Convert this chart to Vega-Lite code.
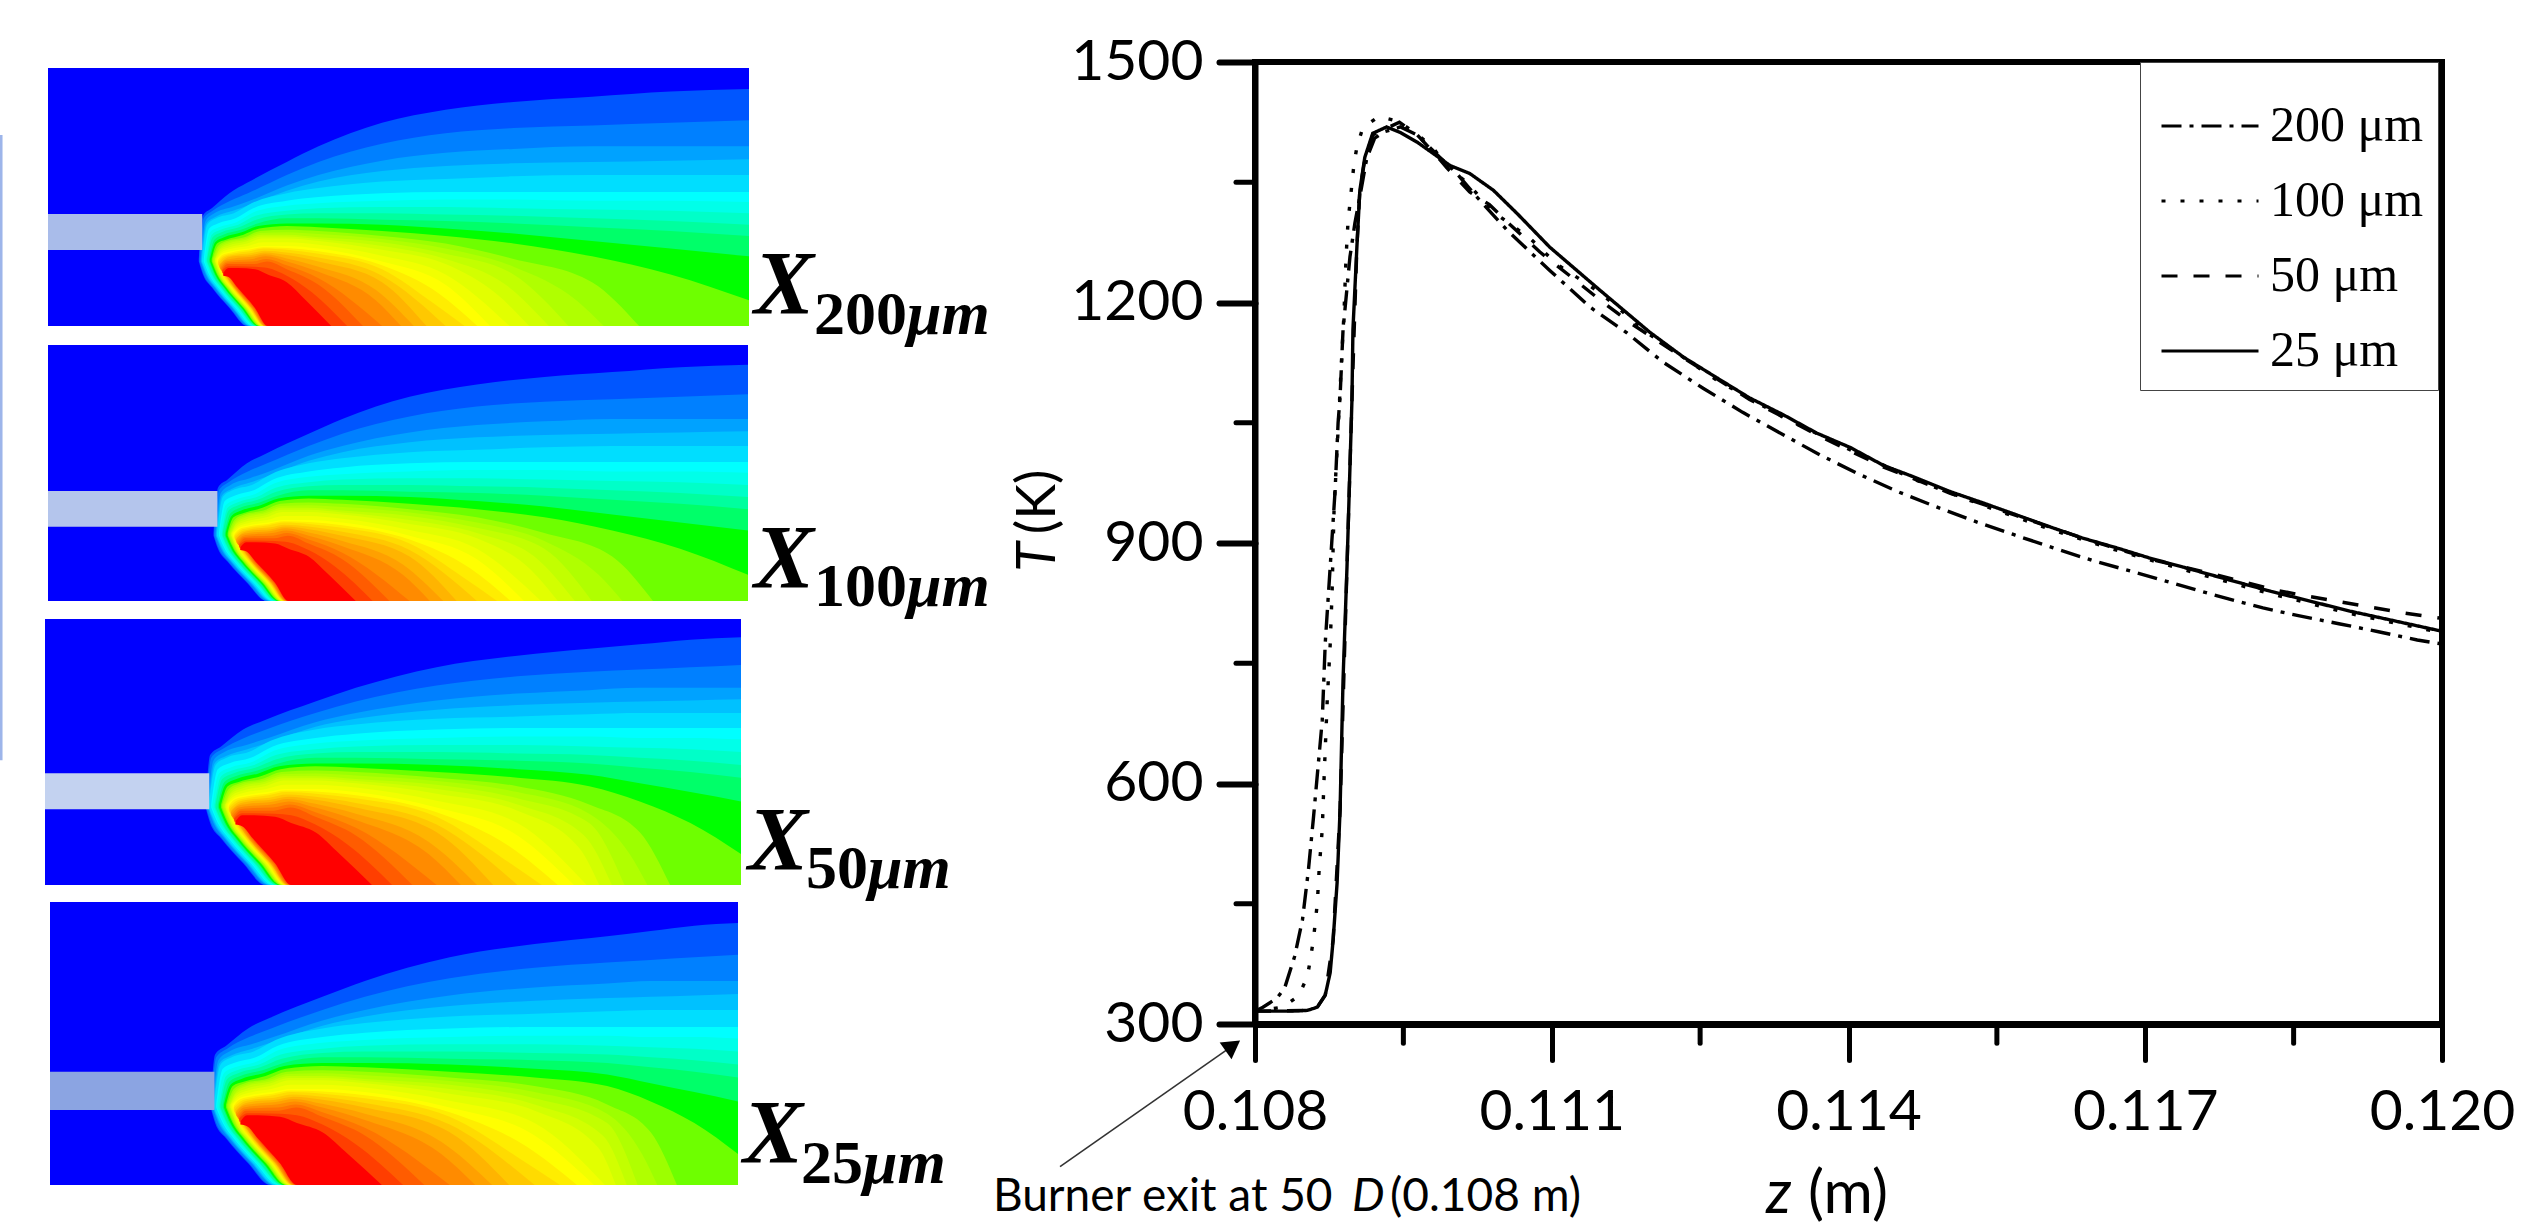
{
"$schema":"https://vega.github.io/schema/vega-lite/v6.json",
"width":1187,"height":962,"autosize":"none","background":"white",
"padding":{"left":1255,"top":62,"right":85,"bottom":201},
"view":{"stroke":"#000","strokeWidth":6},
"datasets":{
"field":[
{"v":0,"x":0,"t":1,"b":0},{"v":0,"x":1,"t":1,"b":0},
{"v":0.04,"x":0.235,"t":0.26,"b":0.25},{"v":0.04,"x":0.241,"t":0.43,"b":0.2},{"v":0.04,"x":0.251,"t":0.46,"b":0.15},{"v":0.04,"x":0.271,"t":0.52,"b":0.07},{"v":0.04,"x":0.291,"t":0.56,"b":0},{"v":0.04,"x":0.35,"t":0.64,"b":0},{"v":0.04,"x":0.4,"t":0.7,"b":0},{"v":0.04,"x":0.5,"t":0.79,"b":0},{"v":0.04,"x":0.6,"t":0.84,"b":0},{"v":0.04,"x":0.7,"t":0.87,"b":0},{"v":0.04,"x":0.8,"t":0.89,"b":0},{"v":0.04,"x":0.9,"t":0.91,"b":0},{"v":0.04,"x":1,"t":0.92,"b":0},
{"v":0.08,"x":0.236,"t":0.26,"b":0.25},{"v":0.08,"x":0.242,"t":0.42,"b":0.2},{"v":0.08,"x":0.252,"t":0.45,"b":0.15},{"v":0.08,"x":0.272,"t":0.49,"b":0.07},{"v":0.08,"x":0.292,"t":0.52,"b":0},{"v":0.08,"x":0.35,"t":0.59,"b":0},{"v":0.08,"x":0.4,"t":0.64,"b":0},{"v":0.08,"x":0.5,"t":0.71,"b":0},{"v":0.08,"x":0.6,"t":0.75,"b":0},{"v":0.08,"x":0.7,"t":0.77,"b":0},{"v":0.08,"x":0.8,"t":0.78,"b":0},{"v":0.08,"x":0.9,"t":0.79,"b":0},{"v":0.08,"x":1,"t":0.8,"b":0},
{"v":0.12,"x":0.238,"t":0.26,"b":0.25},{"v":0.12,"x":0.244,"t":0.41,"b":0.2},{"v":0.12,"x":0.254,"t":0.44,"b":0.15},{"v":0.12,"x":0.274,"t":0.465,"b":0.07},{"v":0.12,"x":0.294,"t":0.49,"b":0},{"v":0.12,"x":0.35,"t":0.55,"b":0},{"v":0.12,"x":0.4,"t":0.59,"b":0},{"v":0.12,"x":0.5,"t":0.645,"b":0},{"v":0.12,"x":0.6,"t":0.675,"b":0},{"v":0.12,"x":0.7,"t":0.69,"b":0},{"v":0.12,"x":0.8,"t":0.7,"b":0},{"v":0.12,"x":0.9,"t":0.7,"b":0},{"v":0.12,"x":1,"t":0.7,"b":0},
{"v":0.16,"x":0.239,"t":0.26,"b":0.25},{"v":0.16,"x":0.245,"t":0.4,"b":0.2},{"v":0.16,"x":0.255,"t":0.425,"b":0.15},{"v":0.16,"x":0.275,"t":0.45,"b":0.07},{"v":0.16,"x":0.295,"t":0.475,"b":0},{"v":0.16,"x":0.35,"t":0.53,"b":0},{"v":0.16,"x":0.4,"t":0.565,"b":0},{"v":0.16,"x":0.5,"t":0.605,"b":0},{"v":0.16,"x":0.6,"t":0.625,"b":0},{"v":0.16,"x":0.7,"t":0.635,"b":0},{"v":0.16,"x":0.8,"t":0.64,"b":0},{"v":0.16,"x":0.9,"t":0.645,"b":0},{"v":0.16,"x":1,"t":0.65,"b":0},
{"v":0.2,"x":0.24,"t":0.26,"b":0.25},{"v":0.2,"x":0.246,"t":0.395,"b":0.2},{"v":0.2,"x":0.256,"t":0.42,"b":0.15},{"v":0.2,"x":0.276,"t":0.44,"b":0.07},{"v":0.2,"x":0.296,"t":0.48,"b":0},{"v":0.2,"x":0.35,"t":0.52,"b":0},{"v":0.2,"x":0.4,"t":0.54,"b":0},{"v":0.2,"x":0.5,"t":0.565,"b":0},{"v":0.2,"x":0.6,"t":0.575,"b":0},{"v":0.2,"x":0.7,"t":0.585,"b":0},{"v":0.2,"x":0.8,"t":0.59,"b":0},{"v":0.2,"x":0.9,"t":0.59,"b":0},{"v":0.2,"x":1,"t":0.59,"b":0},
{"v":0.25,"x":0.242,"t":0.26,"b":0.25},{"v":0.25,"x":0.248,"t":0.38,"b":0.2},{"v":0.25,"x":0.258,"t":0.4,"b":0.15},{"v":0.25,"x":0.278,"t":0.42,"b":0.07},{"v":0.25,"x":0.298,"t":0.46,"b":0},{"v":0.25,"x":0.35,"t":0.49,"b":0},{"v":0.25,"x":0.4,"t":0.505,"b":0},{"v":0.25,"x":0.5,"t":0.52,"b":0},{"v":0.25,"x":0.6,"t":0.525,"b":0},{"v":0.25,"x":0.7,"t":0.525,"b":0},{"v":0.25,"x":0.8,"t":0.525,"b":0},{"v":0.25,"x":0.9,"t":0.525,"b":0},{"v":0.25,"x":1,"t":0.525,"b":0},
{"v":0.3,"x":0.243,"t":0.26,"b":0.25},{"v":0.3,"x":0.249,"t":0.365,"b":0.2},{"v":0.3,"x":0.259,"t":0.385,"b":0.15},{"v":0.3,"x":0.279,"t":0.405,"b":0.07},{"v":0.3,"x":0.299,"t":0.445,"b":0},{"v":0.3,"x":0.35,"t":0.47,"b":0},{"v":0.3,"x":0.4,"t":0.48,"b":0},{"v":0.3,"x":0.5,"t":0.49,"b":0},{"v":0.3,"x":0.6,"t":0.495,"b":0},{"v":0.3,"x":0.7,"t":0.495,"b":0},{"v":0.3,"x":0.8,"t":0.49,"b":0},{"v":0.3,"x":0.9,"t":0.49,"b":0},{"v":0.3,"x":1,"t":0.485,"b":0},
{"v":0.35,"x":0.245,"t":0.26,"b":0.25},{"v":0.35,"x":0.251,"t":0.355,"b":0.2},{"v":0.35,"x":0.261,"t":0.375,"b":0.15},{"v":0.35,"x":0.281,"t":0.395,"b":0.07},{"v":0.35,"x":0.301,"t":0.43,"b":0},{"v":0.35,"x":0.35,"t":0.45,"b":0},{"v":0.35,"x":0.4,"t":0.46,"b":0},{"v":0.35,"x":0.5,"t":0.465,"b":0},{"v":0.35,"x":0.6,"t":0.465,"b":0},{"v":0.35,"x":0.7,"t":0.46,"b":0},{"v":0.35,"x":0.8,"t":0.455,"b":0},{"v":0.35,"x":0.9,"t":0.45,"b":0},{"v":0.35,"x":1,"t":0.44,"b":0},
{"v":0.4,"x":0.246,"t":0.26,"b":0.25},{"v":0.4,"x":0.252,"t":0.345,"b":0.2},{"v":0.4,"x":0.262,"t":0.365,"b":0.15},{"v":0.4,"x":0.282,"t":0.385,"b":0.07},{"v":0.4,"x":0.302,"t":0.415,"b":0},{"v":0.4,"x":0.35,"t":0.435,"b":0},{"v":0.4,"x":0.4,"t":0.44,"b":0},{"v":0.4,"x":0.5,"t":0.44,"b":0},{"v":0.4,"x":0.6,"t":0.435,"b":0},{"v":0.4,"x":0.7,"t":0.43,"b":0},{"v":0.4,"x":0.8,"t":0.42,"b":0},{"v":0.4,"x":0.9,"t":0.41,"b":0},{"v":0.4,"x":1,"t":0.395,"b":0},
{"v":0.45,"x":0.248,"t":0.26,"b":0.25},{"v":0.45,"x":0.254,"t":0.335,"b":0.2},{"v":0.45,"x":0.264,"t":0.355,"b":0.15},{"v":0.45,"x":0.284,"t":0.375,"b":0.07},{"v":0.45,"x":0.304,"t":0.4,"b":0},{"v":0.45,"x":0.35,"t":0.42,"b":0},{"v":0.45,"x":0.4,"t":0.42,"b":0},{"v":0.45,"x":0.5,"t":0.415,"b":0},{"v":0.45,"x":0.6,"t":0.41,"b":0},{"v":0.45,"x":0.7,"t":0.4,"b":0},{"v":0.45,"x":0.8,"t":0.385,"b":0},{"v":0.45,"x":0.9,"t":0.37,"b":0},{"v":0.45,"x":1,"t":0.35,"b":0},
{"v":0.5,"x":0.249,"t":0.26,"b":0.25},{"v":0.5,"x":0.255,"t":0.325,"b":0.2},{"v":0.5,"x":0.265,"t":0.345,"b":0.15},{"v":0.5,"x":0.285,"t":0.365,"b":0.07},{"v":0.5,"x":0.305,"t":0.39,"b":0},{"v":0.5,"x":0.35,"t":0.4,"b":0},{"v":0.5,"x":0.4,"t":0.4,"b":0},{"v":0.5,"x":0.5,"t":0.395,"b":0},{"v":0.5,"x":0.6,"t":0.38,"b":0},{"v":0.5,"x":0.7,"t":0.36,"b":0},{"v":0.5,"x":0.8,"t":0.33,"b":0},{"v":0.5,"x":0.9,"t":0.3,"b":0},{"v":0.5,"x":1,"t":0.27,"b":0},
{"v":0.55,"x":0.251,"t":0.26,"b":0.25},{"v":0.55,"x":0.257,"t":0.32,"b":0.2},{"v":0.55,"x":0.267,"t":0.335,"b":0.15},{"v":0.55,"x":0.287,"t":0.355,"b":0.07},{"v":0.55,"x":0.307,"t":0.38,"b":0},{"v":0.55,"x":0.35,"t":0.39,"b":0},{"v":0.55,"x":0.4,"t":0.385,"b":0},{"v":0.55,"x":0.5,"t":0.37,"b":0},{"v":0.55,"x":0.6,"t":0.35,"b":0},{"v":0.55,"x":0.7,"t":0.32,"b":0},{"v":0.55,"x":0.8,"t":0.27,"b":0},{"v":0.55,"x":0.9,"t":0.2,"b":0},{"v":0.55,"x":1,"t":0.1,"b":0},
{"v":0.6,"x":0.252,"t":0.26,"b":0.25},{"v":0.6,"x":0.258,"t":0.31,"b":0.2},{"v":0.6,"x":0.268,"t":0.33,"b":0.15},{"v":0.6,"x":0.288,"t":0.345,"b":0.07},{"v":0.6,"x":0.308,"t":0.37,"b":0},{"v":0.6,"x":0.35,"t":0.375,"b":0},{"v":0.6,"x":0.4,"t":0.37,"b":0},{"v":0.6,"x":0.5,"t":0.35,"b":0},{"v":0.6,"x":0.6,"t":0.32,"b":0},{"v":0.6,"x":0.7,"t":0.26,"b":0},{"v":0.6,"x":0.8,"t":0.17,"b":0},{"v":0.6,"x":0.86,"t":0,"b":0},
{"v":0.625,"x":0.253,"t":0.26,"b":0.25},{"v":0.625,"x":0.259,"t":0.305,"b":0.2},{"v":0.625,"x":0.269,"t":0.325,"b":0.15},{"v":0.625,"x":0.289,"t":0.34,"b":0.07},{"v":0.625,"x":0.309,"t":0.362,"b":0},{"v":0.625,"x":0.35,"t":0.365,"b":0},{"v":0.625,"x":0.4,"t":0.358,"b":0},{"v":0.625,"x":0.5,"t":0.338,"b":0},{"v":0.625,"x":0.6,"t":0.3,"b":0},{"v":0.625,"x":0.7,"t":0.23,"b":0},{"v":0.625,"x":0.78,"t":0.1,"b":0},{"v":0.625,"x":0.815,"t":0,"b":0},
{"v":0.65,"x":0.254,"t":0.26,"b":0.25},{"v":0.65,"x":0.26,"t":0.3,"b":0.2},{"v":0.65,"x":0.27,"t":0.32,"b":0.15},{"v":0.65,"x":0.29,"t":0.335,"b":0.07},{"v":0.65,"x":0.31,"t":0.355,"b":0},{"v":0.65,"x":0.35,"t":0.355,"b":0},{"v":0.65,"x":0.4,"t":0.345,"b":0},{"v":0.65,"x":0.5,"t":0.325,"b":0},{"v":0.65,"x":0.6,"t":0.28,"b":0},{"v":0.65,"x":0.7,"t":0.2,"b":0},{"v":0.65,"x":0.77,"t":0,"b":0},
{"v":0.675,"x":0.255,"t":0.26,"b":0.25},{"v":0.675,"x":0.26,"t":0.295,"b":0.2},{"v":0.675,"x":0.27,"t":0.312,"b":0.15},{"v":0.675,"x":0.29,"t":0.328,"b":0.07},{"v":0.675,"x":0.31,"t":0.348,"b":0},{"v":0.675,"x":0.35,"t":0.348,"b":0},{"v":0.675,"x":0.4,"t":0.338,"b":0},{"v":0.675,"x":0.5,"t":0.31,"b":0},{"v":0.675,"x":0.6,"t":0.26,"b":0},{"v":0.675,"x":0.69,"t":0.16,"b":0},{"v":0.675,"x":0.745,"t":0,"b":0},
{"v":0.7,"x":0.255,"t":0.26,"b":0.25},{"v":0.7,"x":0.261,"t":0.29,"b":0.2},{"v":0.7,"x":0.271,"t":0.305,"b":0.15},{"v":0.7,"x":0.291,"t":0.32,"b":0.07},{"v":0.7,"x":0.311,"t":0.34,"b":0},{"v":0.7,"x":0.35,"t":0.34,"b":0},{"v":0.7,"x":0.4,"t":0.33,"b":0},{"v":0.7,"x":0.5,"t":0.295,"b":0},{"v":0.7,"x":0.6,"t":0.24,"b":0},{"v":0.7,"x":0.68,"t":0.12,"b":0},{"v":0.7,"x":0.72,"t":0,"b":0},
{"v":0.725,"x":0.256,"t":0.26,"b":0.25},{"v":0.725,"x":0.262,"t":0.285,"b":0.2},{"v":0.725,"x":0.272,"t":0.298,"b":0.15},{"v":0.725,"x":0.292,"t":0.31,"b":0.07},{"v":0.725,"x":0.312,"t":0.325,"b":0},{"v":0.725,"x":0.35,"t":0.325,"b":0},{"v":0.725,"x":0.4,"t":0.315,"b":0},{"v":0.725,"x":0.5,"t":0.272,"b":0},{"v":0.725,"x":0.6,"t":0.2,"b":0},{"v":0.725,"x":0.695,"t":0,"b":0},
{"v":0.75,"x":0.257,"t":0.26,"b":0.25},{"v":0.75,"x":0.263,"t":0.28,"b":0.2},{"v":0.75,"x":0.273,"t":0.29,"b":0.15},{"v":0.75,"x":0.293,"t":0.3,"b":0.07},{"v":0.75,"x":0.313,"t":0.31,"b":0},{"v":0.75,"x":0.35,"t":0.31,"b":0},{"v":0.75,"x":0.4,"t":0.3,"b":0},{"v":0.75,"x":0.5,"t":0.25,"b":0},{"v":0.75,"x":0.6,"t":0.16,"b":0},{"v":0.75,"x":0.67,"t":0,"b":0},
{"v":0.775,"x":0.258,"t":0.255,"b":0.245},{"v":0.775,"x":0.263,"t":0.275,"b":0.2},{"v":0.775,"x":0.273,"t":0.285,"b":0.15},{"v":0.775,"x":0.293,"t":0.295,"b":0.07},{"v":0.775,"x":0.313,"t":0.305,"b":0},{"v":0.775,"x":0.35,"t":0.302,"b":0},{"v":0.775,"x":0.4,"t":0.29,"b":0},{"v":0.775,"x":0.5,"t":0.235,"b":0},{"v":0.775,"x":0.59,"t":0.125,"b":0},{"v":0.775,"x":0.65,"t":0,"b":0},
{"v":0.8,"x":0.258,"t":0.25,"b":0.24},{"v":0.8,"x":0.264,"t":0.27,"b":0.2},{"v":0.8,"x":0.274,"t":0.28,"b":0.15},{"v":0.8,"x":0.294,"t":0.29,"b":0.07},{"v":0.8,"x":0.314,"t":0.3,"b":0},{"v":0.8,"x":0.35,"t":0.295,"b":0},{"v":0.8,"x":0.4,"t":0.28,"b":0},{"v":0.8,"x":0.5,"t":0.22,"b":0},{"v":0.8,"x":0.58,"t":0.09,"b":0},{"v":0.8,"x":0.63,"t":0,"b":0},
{"v":0.825,"x":0.259,"t":0.245,"b":0.235},{"v":0.825,"x":0.265,"t":0.265,"b":0.2},{"v":0.825,"x":0.275,"t":0.275,"b":0.15},{"v":0.825,"x":0.295,"t":0.282,"b":0.07},{"v":0.825,"x":0.315,"t":0.292,"b":0},{"v":0.825,"x":0.35,"t":0.285,"b":0},{"v":0.825,"x":0.4,"t":0.265,"b":0},{"v":0.825,"x":0.5,"t":0.195,"b":0},{"v":0.825,"x":0.6,"t":0,"b":0},
{"v":0.85,"x":0.26,"t":0.24,"b":0.23},{"v":0.85,"x":0.266,"t":0.26,"b":0.2},{"v":0.85,"x":0.276,"t":0.27,"b":0.15},{"v":0.85,"x":0.296,"t":0.275,"b":0.07},{"v":0.85,"x":0.316,"t":0.285,"b":0},{"v":0.85,"x":0.35,"t":0.275,"b":0},{"v":0.85,"x":0.4,"t":0.25,"b":0},{"v":0.85,"x":0.5,"t":0.17,"b":0},{"v":0.85,"x":0.57,"t":0,"b":0},
{"v":0.875,"x":0.26,"t":0.235,"b":0.225},{"v":0.875,"x":0.266,"t":0.255,"b":0.2},{"v":0.875,"x":0.276,"t":0.262,"b":0.15},{"v":0.875,"x":0.296,"t":0.268,"b":0.07},{"v":0.875,"x":0.316,"t":0.278,"b":0},{"v":0.875,"x":0.35,"t":0.262,"b":0},{"v":0.875,"x":0.4,"t":0.23,"b":0},{"v":0.875,"x":0.49,"t":0.14,"b":0},{"v":0.875,"x":0.55,"t":0,"b":0},
{"v":0.9,"x":0.261,"t":0.23,"b":0.22},{"v":0.9,"x":0.267,"t":0.25,"b":0.2},{"v":0.9,"x":0.277,"t":0.255,"b":0.15},{"v":0.9,"x":0.297,"t":0.26,"b":0.07},{"v":0.9,"x":0.317,"t":0.27,"b":0},{"v":0.9,"x":0.35,"t":0.25,"b":0},{"v":0.9,"x":0.4,"t":0.21,"b":0},{"v":0.9,"x":0.49,"t":0.1,"b":0},{"v":0.9,"x":0.53,"t":0,"b":0},
{"v":0.925,"x":0.262,"t":0.225,"b":0.215},{"v":0.925,"x":0.268,"t":0.245,"b":0.2},{"v":0.925,"x":0.278,"t":0.248,"b":0.15},{"v":0.925,"x":0.298,"t":0.25,"b":0.07},{"v":0.925,"x":0.318,"t":0.26,"b":0},{"v":0.925,"x":0.35,"t":0.235,"b":0},{"v":0.925,"x":0.4,"t":0.185,"b":0},{"v":0.925,"x":0.5,"t":0,"b":0},
{"v":0.95,"x":0.263,"t":0.22,"b":0.21},{"v":0.95,"x":0.269,"t":0.24,"b":0.2},{"v":0.95,"x":0.279,"t":0.24,"b":0.15},{"v":0.95,"x":0.299,"t":0.24,"b":0.07},{"v":0.95,"x":0.319,"t":0.25,"b":0},{"v":0.95,"x":0.35,"t":0.22,"b":0},{"v":0.95,"x":0.4,"t":0.16,"b":0},{"v":0.95,"x":0.47,"t":0,"b":0},
{"v":0.975,"x":0.263,"t":0.215,"b":0.205},{"v":0.975,"x":0.27,"t":0.232,"b":0.2},{"v":0.975,"x":0.28,"t":0.232,"b":0.15},{"v":0.975,"x":0.3,"t":0.23,"b":0.07},{"v":0.975,"x":0.32,"t":0.225,"b":0},{"v":0.975,"x":0.35,"t":0.195,"b":0},{"v":0.975,"x":0.39,"t":0.13,"b":0},{"v":0.975,"x":0.445,"t":0,"b":0},
{"v":1,"x":0.264,"t":0.205,"b":0.195},{"v":1,"x":0.27,"t":0.225,"b":0.19},{"v":1,"x":0.28,"t":0.225,"b":0.15},{"v":1,"x":0.3,"t":0.22,"b":0.07},{"v":1,"x":0.32,"t":0.2,"b":0},{"v":1,"x":0.35,"t":0.17,"b":0},{"v":1,"x":0.38,"t":0.1,"b":0},{"v":1,"x":0.42,"t":0,"b":0}
],
"curves":[
{"s":"200 μm","z":0.108,"T":316},{"s":"200 μm","z":0.10808,"T":321},{"s":"200 μm","z":0.10822,"T":332},{"s":"200 μm","z":0.1083,"T":345},{"s":"200 μm","z":0.1084,"T":384},{"s":"200 μm","z":0.10848,"T":430},{"s":"200 μm","z":0.10854,"T":492},{"s":"200 μm","z":0.10859,"T":556},{"s":"200 μm","z":0.10868,"T":679},{"s":"200 μm","z":0.10871,"T":775},{"s":"200 μm","z":0.10876,"T":870},{"s":"200 μm","z":0.10881,"T":966},{"s":"200 μm","z":0.10884,"T":1050},{"s":"200 μm","z":0.10886,"T":1082},{"s":"200 μm","z":0.10889,"T":1166},{"s":"200 μm","z":0.10896,"T":1257},{"s":"200 μm","z":0.10901,"T":1299},{"s":"200 μm","z":0.10906,"T":1332},{"s":"200 μm","z":0.10913,"T":1380},{"s":"200 μm","z":0.10921,"T":1405},{"s":"200 μm","z":0.10931,"T":1413},{"s":"200 μm","z":0.10947,"T":1419},{"s":"200 μm","z":0.10964,"T":1409},{"s":"200 μm","z":0.10987,"T":1381},{"s":"200 μm","z":0.11004,"T":1361},{"s":"200 μm","z":0.11024,"T":1332},{"s":"200 μm","z":0.11055,"T":1290},{"s":"200 μm","z":0.11098,"T":1240},{"s":"200 μm","z":0.11139,"T":1194},{"s":"200 μm","z":0.11176,"T":1162},{"s":"200 μm","z":0.11212,"T":1126},{"s":"200 μm","z":0.11253,"T":1093},{"s":"200 μm","z":0.11293,"T":1063},{"s":"200 μm","z":0.11334,"T":1035},{"s":"200 μm","z":0.11371,"T":1010},{"s":"200 μm","z":0.11412,"T":985},{"s":"200 μm","z":0.1145,"T":964},{"s":"200 μm","z":0.11489,"T":945},{"s":"200 μm","z":0.1153,"T":926},{"s":"200 μm","z":0.11568,"T":910},{"s":"200 μm","z":0.11607,"T":894},{"s":"200 μm","z":0.11647,"T":878},{"s":"200 μm","z":0.11688,"T":864},{"s":"200 μm","z":0.11725,"T":851},{"s":"200 μm","z":0.11773,"T":834},{"s":"200 μm","z":0.11819,"T":819},{"s":"200 μm","z":0.11856,"T":809},{"s":"200 μm","z":0.11897,"T":799},{"s":"200 μm","z":0.11937,"T":789},{"s":"200 μm","z":0.11975,"T":779},{"s":"200 μm","z":0.12,"T":774},
{"s":"100 μm","z":0.108,"T":316},{"s":"100 μm","z":0.10828,"T":321},{"s":"100 μm","z":0.10844,"T":335},{"s":"100 μm","z":0.10853,"T":359},{"s":"100 μm","z":0.10856,"T":381},{"s":"100 μm","z":0.10859,"T":405},{"s":"100 μm","z":0.10861,"T":427},{"s":"100 μm","z":0.10863,"T":451},{"s":"100 μm","z":0.10865,"T":496},{"s":"100 μm","z":0.10868,"T":543},{"s":"100 μm","z":0.1087,"T":612},{"s":"100 μm","z":0.10873,"T":703},{"s":"100 μm","z":0.10876,"T":773},{"s":"100 μm","z":0.10878,"T":841},{"s":"100 μm","z":0.10879,"T":896},{"s":"100 μm","z":0.1088,"T":945},{"s":"100 μm","z":0.10882,"T":994},{"s":"100 μm","z":0.10884,"T":1041},{"s":"100 μm","z":0.10888,"T":1141},{"s":"100 μm","z":0.1089,"T":1187},{"s":"100 μm","z":0.10892,"T":1255},{"s":"100 μm","z":0.10894,"T":1300},{"s":"100 μm","z":0.10896,"T":1324},{"s":"100 μm","z":0.10898,"T":1348},{"s":"100 μm","z":0.109,"T":1372},{"s":"100 μm","z":0.10903,"T":1394},{"s":"100 μm","z":0.10909,"T":1418},{"s":"100 μm","z":0.10925,"T":1432},{"s":"100 μm","z":0.10945,"T":1426},{"s":"100 μm","z":0.10964,"T":1410},{"s":"100 μm","z":0.1098,"T":1393},{"s":"100 μm","z":0.10995,"T":1368},{"s":"100 μm","z":0.11014,"T":1350},{"s":"100 μm","z":0.11041,"T":1313},{"s":"100 μm","z":0.11078,"T":1280},{"s":"100 μm","z":0.11106,"T":1247},{"s":"100 μm","z":0.11126,"T":1231},{"s":"100 μm","z":0.11149,"T":1212},{"s":"100 μm","z":0.11199,"T":1160},{"s":"100 μm","z":0.11267,"T":1103},{"s":"100 μm","z":0.11334,"T":1057},{"s":"100 μm","z":0.11402,"T":1016},{"s":"100 μm","z":0.11469,"T":978},{"s":"100 μm","z":0.11536,"T":947},{"s":"100 μm","z":0.11604,"T":917},{"s":"100 μm","z":0.11671,"T":891},{"s":"100 μm","z":0.11738,"T":867},{"s":"100 μm","z":0.11823,"T":838},{"s":"100 μm","z":0.11907,"T":812},{"s":"100 μm","z":0.11996,"T":789},{"s":"100 μm","z":0.12,"T":788},
{"s":"50 μm","z":0.108,"T":316},{"s":"50 μm","z":0.10853,"T":317},{"s":"50 μm","z":0.10863,"T":321},{"s":"50 μm","z":0.10871,"T":336},{"s":"50 μm","z":0.10879,"T":405},{"s":"50 μm","z":0.10886,"T":567},{"s":"50 μm","z":0.10893,"T":870},{"s":"50 μm","z":0.10898,"T":1078},{"s":"50 μm","z":0.10903,"T":1269},{"s":"50 μm","z":0.10906,"T":1340},{"s":"50 μm","z":0.10911,"T":1378},{"s":"50 μm","z":0.10919,"T":1409},{"s":"50 μm","z":0.10946,"T":1425},{"s":"50 μm","z":0.10964,"T":1409},{"s":"50 μm","z":0.1098,"T":1388},{"s":"50 μm","z":0.10994,"T":1368},{"s":"50 μm","z":0.11017,"T":1338},{"s":"50 μm","z":0.11037,"T":1322},{"s":"50 μm","z":0.11058,"T":1297},{"s":"50 μm","z":0.11088,"T":1263},{"s":"50 μm","z":0.11149,"T":1203},{"s":"50 μm","z":0.1118,"T":1174},{"s":"50 μm","z":0.11233,"T":1131},{"s":"50 μm","z":0.113,"T":1079},{"s":"50 μm","z":0.11368,"T":1035},{"s":"50 μm","z":0.11435,"T":995},{"s":"50 μm","z":0.11503,"T":962},{"s":"50 μm","z":0.1157,"T":934},{"s":"50 μm","z":0.11637,"T":906},{"s":"50 μm","z":0.11711,"T":878},{"s":"50 μm","z":0.11773,"T":860},{"s":"50 μm","z":0.11833,"T":841},{"s":"50 μm","z":0.11863,"T":834},{"s":"50 μm","z":0.1196,"T":813},{"s":"50 μm","z":0.12,"T":806},
{"s":"25 μm","z":0.108,"T":316},{"s":"25 μm","z":0.10832,"T":316},{"s":"25 μm","z":0.10853,"T":317},{"s":"25 μm","z":0.10863,"T":321},{"s":"25 μm","z":0.10871,"T":336},{"s":"25 μm","z":0.10876,"T":364},{"s":"25 μm","z":0.10879,"T":405},{"s":"25 μm","z":0.10883,"T":476},{"s":"25 μm","z":0.10886,"T":567},{"s":"25 μm","z":0.10889,"T":729},{"s":"25 μm","z":0.10893,"T":870},{"s":"25 μm","z":0.10898,"T":1078},{"s":"25 μm","z":0.10899,"T":1166},{"s":"25 μm","z":0.10903,"T":1269},{"s":"25 μm","z":0.10906,"T":1340},{"s":"25 μm","z":0.10911,"T":1381},{"s":"25 μm","z":0.10919,"T":1411},{"s":"25 μm","z":0.10933,"T":1419},{"s":"25 μm","z":0.10947,"T":1412},{"s":"25 μm","z":0.10964,"T":1400},{"s":"25 μm","z":0.1098,"T":1386},{"s":"25 μm","z":0.10997,"T":1371},{"s":"25 μm","z":0.11017,"T":1361},{"s":"25 μm","z":0.11041,"T":1340},{"s":"25 μm","z":0.11065,"T":1311},{"s":"25 μm","z":0.11098,"T":1269},{"s":"25 μm","z":0.11149,"T":1215},{"s":"25 μm","z":0.11199,"T":1163},{"s":"25 μm","z":0.11233,"T":1132},{"s":"25 μm","z":0.11267,"T":1106},{"s":"25 μm","z":0.113,"T":1081},{"s":"25 μm","z":0.11334,"T":1060},{"s":"25 μm","z":0.11368,"T":1037},{"s":"25 μm","z":0.11402,"T":1019},{"s":"25 μm","z":0.11435,"T":997},{"s":"25 μm","z":0.11469,"T":981},{"s":"25 μm","z":0.11503,"T":964},{"s":"25 μm","z":0.11536,"T":950},{"s":"25 μm","z":0.1157,"T":935},{"s":"25 μm","z":0.11604,"T":920},{"s":"25 μm","z":0.11637,"T":906},{"s":"25 μm","z":0.11671,"T":894},{"s":"25 μm","z":0.11705,"T":881},{"s":"25 μm","z":0.11738,"T":870},{"s":"25 μm","z":0.11823,"T":841},{"s":"25 μm","z":0.11907,"T":815},{"s":"25 μm","z":0.11996,"T":791},{"s":"25 μm","z":0.12,"T":790}
]
},
"layer":[
{"data":{"name":"field"},"mark":{"type":"area","interpolate":"monotone"},"encoding":{
"x":{"field":"x","type":"quantitative","axis":null,"scale":{"domain":[0,0.24,0.3,0.67,1],"range":[-1207,-1053,-1000,-765,-506],"clamp":true}},
"y":{"field":"t","type":"quantitative","axis":null,"scale":{"domain":[0,0.31,0.525,1],"range":[264,184,130,6]}},"y2":{"field":"b"},"detail":{"field":"v"},
"color":{"field":"v","type":"quantitative","legend":null,"scale":{"domain":[0,0.25,0.5,0.75,1],"range":["#0000ff","#00ffff","#00ff00","#ffff00","#ff0000"]}}}},
{"data":{"name":"field"},"mark":{"type":"area","interpolate":"monotone"},"encoding":{
"x":{"field":"x","type":"quantitative","axis":null,"scale":{"domain":[0,0.24,0.3,0.67,1],"range":[-1207,-1038,-980,-731,-507],"clamp":true}},
"y":{"field":"t","type":"quantitative","axis":null,"scale":{"domain":[0,0.31,0.525,1],"range":[539,458,400,283]}},"y2":{"field":"b"},"detail":{"field":"v"},
"color":{"field":"v","type":"quantitative","legend":null,"scale":{"domain":[0,0.25,0.5,0.75,1],"range":["#0000ff","#00ffff","#00ff00","#ffff00","#ff0000"]}}}},
{"data":{"name":"field"},"mark":{"type":"area","interpolate":"monotone"},"encoding":{
"x":{"field":"x","type":"quantitative","axis":null,"scale":{"domain":[0,0.24,0.3,0.67,1],"range":[-1210,-1046,-980,-681,-514],"clamp":true}},
"y":{"field":"t","type":"quantitative","axis":null,"scale":{"domain":[0,0.31,0.525,1],"range":[823,727,666,557]}},"y2":{"field":"b"},"detail":{"field":"v"},
"color":{"field":"v","type":"quantitative","legend":null,"scale":{"domain":[0,0.25,0.5,0.75,1],"range":["#0000ff","#00ffff","#00ff00","#ffff00","#ff0000"]}}}},
{"data":{"name":"field"},"mark":{"type":"area","interpolate":"monotone"},"encoding":{
"x":{"field":"x","type":"quantitative","axis":null,"scale":{"domain":[0,0.24,0.3,0.67,1],"range":[-1205,-1041,-975,-661,-517],"clamp":true}},
"y":{"field":"t","type":"quantitative","axis":null,"scale":{"domain":[0,0.31,0.525,1],"range":[1123,1027,965,840]}},"y2":{"field":"b"},"detail":{"field":"v"},
"color":{"field":"v","type":"quantitative","legend":null,"scale":{"domain":[0,0.25,0.5,0.75,1],"range":["#0000ff","#00ffff","#00ff00","#ffff00","#ff0000"]}}}},
{"data":{"values":[{"a":0,"a2":0.22,"h":0.295,"h2":0.434}]},"mark":{"type":"rect","color":"#a9bcea"},"encoding":{
"x":{"field":"a","type":"quantitative","axis":null,"scale":{"domain":[0,1],"range":[-1207,-506]}},"x2":{"field":"a2"},
"y":{"field":"h","type":"quantitative","axis":null,"scale":{"domain":[0,1],"range":[264,6]}},"y2":{"field":"h2"}}},
{"data":{"values":[{"a":0,"a2":0.242,"h":0.29,"h2":0.43}]},"mark":{"type":"rect","color":"#b4c5ec"},"encoding":{
"x":{"field":"a","type":"quantitative","axis":null,"scale":{"domain":[0,1],"range":[-1207,-507]}},"x2":{"field":"a2"},
"y":{"field":"h","type":"quantitative","axis":null,"scale":{"domain":[0,1],"range":[539,283]}},"y2":{"field":"h2"}}},
{"data":{"values":[{"a":0,"a2":0.236,"h":0.285,"h2":0.42}]},"mark":{"type":"rect","color":"#c3d2f0"},"encoding":{
"x":{"field":"a","type":"quantitative","axis":null,"scale":{"domain":[0,1],"range":[-1210,-514]}},"x2":{"field":"a2"},
"y":{"field":"h","type":"quantitative","axis":null,"scale":{"domain":[0,1],"range":[823,557]}},"y2":{"field":"h2"}}},
{"data":{"values":[{"a":0,"a2":0.239,"h":0.265,"h2":0.4}]},"mark":{"type":"rect","color":"#8ba4e2"},"encoding":{
"x":{"field":"a","type":"quantitative","axis":null,"scale":{"domain":[0,1],"range":[-1205,-517]}},"x2":{"field":"a2"},
"y":{"field":"h","type":"quantitative","axis":null,"scale":{"domain":[0,1],"range":[1123,840]}},"y2":{"field":"h2"}}},
{"encoding":{
"x":{"type":"quantitative","scale":{"domain":[0.108,0.12],"nice":false,"zero":false}},
"y":{"type":"quantitative","scale":{"domain":[300,1500],"nice":false,"zero":false}}},
"layer":[
{"data":{"name":"curves"},"mark":{"type":"line","color":"#000","strokeWidth":3.4},"encoding":{
"x":{"field":"z","type":"quantitative","scale":{"domain":[0.108,0.12],"nice":false,"zero":false},
"axis":{"values":[0.108,0.111,0.114,0.117,0.12],"format":".3f","title":null,"grid":false,"tickSize":36,"tickWidth":5,"tickColor":"#000","tickCap":"round","domainWidth":7,"domainColor":"#000","labelFont":"Lato","labelFontSize":57,"labelColor":"#000","labelPadding":24,"labelOverlap":false,"labelFlush":false}},
"y":{"field":"T","type":"quantitative","scale":{"domain":[300,1500],"nice":false,"zero":false},
"axis":{"values":[300,600,900,1200,1500],"format":"d","title":null,"grid":false,"tickSize":36,"tickWidth":6,"tickColor":"#000","tickCap":"round","domainWidth":6,"domainColor":"#000","labelFont":"Lato","labelFontSize":57,"labelColor":"#000","labelPadding":16,"labelOverlap":false}},
"strokeDash":{"field":"s","type":"nominal","scale":{"domain":["200 μm","100 μm","50 μm","25 μm"],"range":[[20,8,4,8],[4,15],[16,16],[1,0]]},
"legend":{"title":null,"orient":"none","legendX":885,"legendY":0,"symbolType":"stroke","symbolSize":9409,"symbolStrokeWidth":3,"symbolStrokeColor":"#000","symbolOffset":6,"labelFont":"Liberation Serif","labelFontSize":50,"labelColor":"#000","strokeColor":"#444","fillColor":"#fff","padding":14,"rowPadding":-11,"labelOffset":10,"labelLimit":400}}}},
{"data":{"values":[{"z":0.1095,"T":300,"T2":276},{"z":0.1125,"T":300,"T2":276},{"z":0.1155,"T":300,"T2":276},{"z":0.1185,"T":300,"T2":276}]},"mark":{"type":"rule","color":"#000","strokeWidth":5,"strokeCap":"round"},"encoding":{"x":{"field":"z","type":"quantitative"},"y":{"field":"T","type":"quantitative"},"y2":{"field":"T2"}}},
{"data":{"values":[{"z":0.108,"z2":0.107808,"T":450},{"z":0.108,"z2":0.107808,"T":750},{"z":0.108,"z2":0.107808,"T":1050},{"z":0.108,"z2":0.107808,"T":1350}]},"mark":{"type":"rule","color":"#000","strokeWidth":5,"strokeCap":"round"},"encoding":{"x":{"field":"z","type":"quantitative"},"x2":{"field":"z2"},"y":{"field":"T","type":"quantitative"}}},
{"data":{"values":[{"z":0.106029,"T":122,"z2":0.107776,"T2":273}]},"mark":{"type":"rule","color":"#333","strokeWidth":1.6},"encoding":{"x":{"field":"z","type":"quantitative"},"x2":{"field":"z2"},"y":{"field":"T","type":"quantitative"},"y2":{"field":"T2"}}},
{"data":{"values":[{"z":0.107776,"T":273}]},"mark":{"type":"point","shape":"triangle-up","filled":true,"color":"#000","opacity":1,"size":420,"angle":54.6},"encoding":{"x":{"field":"z","type":"quantitative"},"y":{"field":"T","type":"quantitative"}}},
{"data":{"values":[{"z":0.095323,"T":1409,"T2":629}]},"mark":{"type":"rule","color":"#9db5ea","strokeWidth":3},"encoding":{"x":{"field":"z","type":"quantitative"},"y":{"field":"T","type":"quantitative"},"y2":{"field":"T2"}}},
{"data":{"values":[{"z":0.102935,"T":1186,"txt":"X"},{"z":0.102935,"T":844,"txt":"X"},{"z":0.102874,"T":492,"txt":"X"},{"z":0.102824,"T":127,"txt":"X"}]},"mark":{"type":"text","font":"Liberation Serif","fontWeight":"bold","fontStyle":"italic","fontSize":90,"align":"left","baseline":"alphabetic","color":"#000"},"encoding":{"x":{"field":"z","type":"quantitative"},"y":{"field":"T","type":"quantitative"},"text":{"field":"txt"}}},
{"data":{"values":[{"z":0.103542,"T":1161,"txt":"200"},{"z":0.103542,"T":821,"txt":"100"},{"z":0.103461,"T":470,"txt":"50"},{"z":0.10341,"T":102,"txt":"25"}]},"mark":{"type":"text","font":"Liberation Serif","fontWeight":"bold","fontSize":62,"align":"left","baseline":"alphabetic","color":"#000"},"encoding":{"x":{"field":"z","type":"quantitative"},"y":{"field":"T","type":"quantitative"},"text":{"field":"txt"}}},
{"data":{"values":[{"z":0.104482,"T":1161,"txt":"μm"},{"z":0.104482,"T":821,"txt":"μm"},{"z":0.104087,"T":470,"txt":"μm"},{"z":0.104037,"T":102,"txt":"μm"}]},"mark":{"type":"text","font":"Liberation Serif","fontWeight":"bold","fontStyle":"italic","fontSize":62,"align":"left","baseline":"alphabetic","color":"#000"},"encoding":{"x":{"field":"z","type":"quantitative"},"y":{"field":"T","type":"quantitative"},"text":{"field":"txt"}}},
{"data":{"values":[{"z":0.105978,"T":864,"txt":"T"}]},"mark":{"type":"text","font":"Lato","fontStyle":"italic","fontSize":54,"angle":270,"align":"left","baseline":"alphabetic","color":"#000"},"encoding":{"x":{"field":"z","type":"quantitative"},"y":{"field":"T","type":"quantitative"},"text":{"field":"txt"}}},
{"data":{"values":[{"z":0.105978,"T":911,"txt":"(K)"}]},"mark":{"type":"text","font":"Lato","fontSize":54,"angle":270,"align":"left","baseline":"alphabetic","color":"#000"},"encoding":{"x":{"field":"z","type":"quantitative"},"y":{"field":"T","type":"quantitative"},"text":{"field":"txt"}}},
{"data":{"values":[{"z":0.113166,"T":64,"txt":"z"}]},"mark":{"type":"text","font":"Lato","fontStyle":"italic","fontSize":60,"align":"left","baseline":"alphabetic","color":"#000"},"encoding":{"x":{"field":"z","type":"quantitative"},"y":{"field":"T","type":"quantitative"},"text":{"field":"txt"}}},
{"data":{"values":[{"z":0.113591,"T":64,"txt":"(m)"}]},"mark":{"type":"text","font":"Lato","fontSize":60,"align":"left","baseline":"alphabetic","color":"#000"},"encoding":{"x":{"field":"z","type":"quantitative"},"y":{"field":"T","type":"quantitative"},"text":{"field":"txt"}}},
{"data":{"values":[{"z":0.105351,"T":67,"txt":"Burner exit at 50"}]},"mark":{"type":"text","font":"Lato","fontSize":46,"align":"left","baseline":"alphabetic","color":"#000"},"encoding":{"x":{"field":"z","type":"quantitative"},"y":{"field":"T","type":"quantitative"},"text":{"field":"txt"}}},
{"data":{"values":[{"z":0.109365,"T":67,"txt":"(0.108 m)"}]},"mark":{"type":"text","font":"Lato","fontSize":46,"align":"left","baseline":"alphabetic","color":"#000"},"encoding":{"x":{"field":"z","type":"quantitative"},"y":{"field":"T","type":"quantitative"},"text":{"field":"txt"}}},
{"data":{"values":[{"z":0.10898,"T":67,"txt":"D"}]},"mark":{"type":"text","font":"Lato","fontStyle":"italic","fontSize":46,"align":"left","baseline":"alphabetic","color":"#000"},"encoding":{"x":{"field":"z","type":"quantitative"},"y":{"field":"T","type":"quantitative"},"text":{"field":"txt"}}}
]}
],
"resolve":{"scale":{"x":"independent","y":"independent"}}
}
